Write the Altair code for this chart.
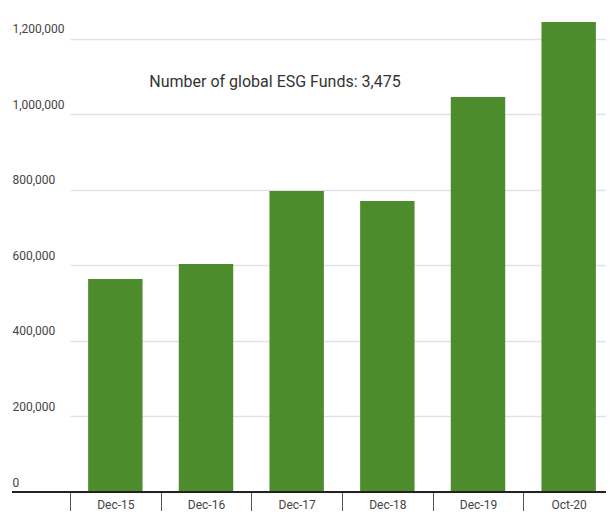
import altair as alt
import pandas as pd

categories = ["Dec-15", "Dec-16", "Dec-17", "Dec-18", "Dec-19", "Oct-20"]
assets = [564000, 604000, 797000, 771000, 1046000, 1245000]
y_ticks = [0, 200000, 400000, 600000, 800000, 1000000, 1200000]
annotation = "Number of global ESG Funds: 3,475"

df = pd.DataFrame({"period": categories, "value": assets})

FONT = "Roboto"
W, H = 594, 484

bars = alt.Chart(df).mark_bar(color="#4d8c2c", width=alt.RelativeBandSize(0.6)).encode(
    x=alt.X("period:N", sort=categories, title=None,
            scale=alt.Scale(range=[58, 602], paddingInner=0, paddingOuter=0),
            axis=alt.Axis(domain=False, tickBand="extent", tickSize=19, tickColor="#555",
                          tickWidth=1, labelPadding=-12, labelAngle=0, labelFontSize=12,
                          labelColor="#444", labelFont=FONT)),
    y=alt.Y("value:Q", title=None,
            scale=alt.Scale(domain=[0, 1282000], nice=False),
            axis=alt.Axis(values=y_ticks, labelExpr="format(datum.value, ',')",
                          domain=False, ticks=False, tickSize=0,
                          grid=True, gridColor="#e2e2e2", gridWidth=1.5,
                          labelAlign="left", labelPadding=0, labelBaseline="alphabetic",
                          labelOffset=-6, labelFontSize=12, labelColor="#444", labelFont=FONT)),
)

base_line = alt.Chart(df).mark_rule(color="#222", strokeWidth=2).encode(
    y=alt.datum(0), x=alt.value(0), x2=alt.value(W)
)

note = alt.Chart(pd.DataFrame({"t": [annotation]})).mark_text(
    font=FONT, fontSize=16, color="#333", align="center", baseline="middle"
).encode(text="t:N", x=alt.value(263), y=alt.value(74))

chart = alt.layer(bars, base_line, note).properties(
    width=W, height=H,
    autosize=alt.AutoSizeParams(type="none"),
    padding={"left": 4, "top": 0, "right": 0, "bottom": 19},
).configure_view(stroke=None)

chart.save("out.html", embed_options={"renderer": "svg", "actions": False})
